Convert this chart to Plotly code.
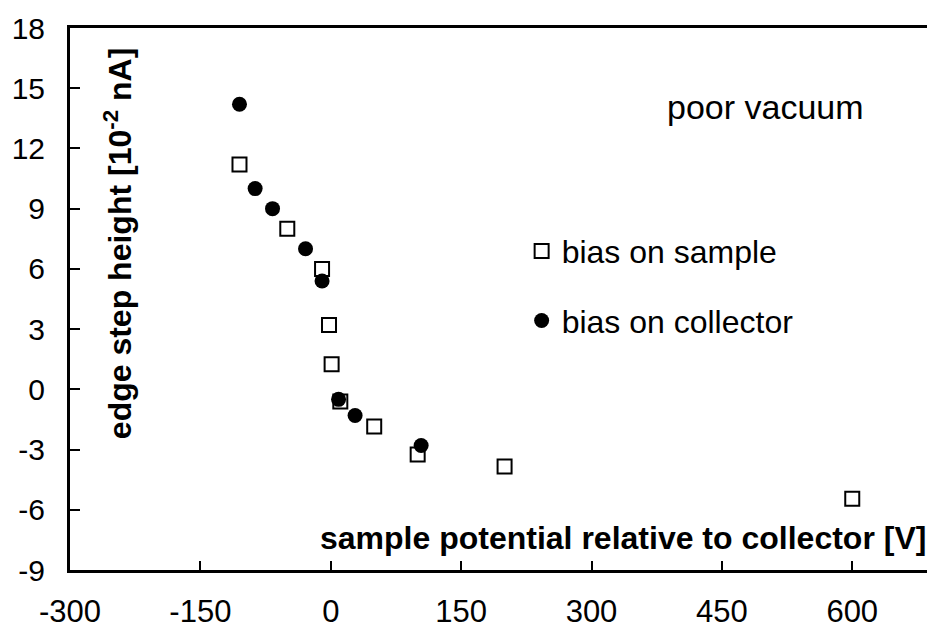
import plotly.graph_objects as go

sample_x = [-105, -50, -10, -2, 1, 11, 50, 100, 200, 600]
sample_y = [11.2, 8.0, 6.0, 3.2, 1.25, -0.6, -1.85, -3.25, -3.85, -5.45]
collector_x = [-105, -87, -67, -29, -10, 9, 28, 104]
collector_y = [14.2, 10.0, 9.0, 7.0, 5.4, -0.5, -1.3, -2.8]

x_ticks = [-300, -150, 0, 150, 300, 450, 600]
y_ticks = [-9, -6, -3, 0, 3, 6, 9, 12, 15, 18]

FONT = "Liberation Sans, Arial, sans-serif"

fig = go.Figure()
fig.add_trace(go.Scatter(
    x=sample_x, y=sample_y, mode="markers", name="bias on sample",
    legendgroup="a",
    marker=dict(symbol="square-open", size=14, color="black", line=dict(width=2, color="black")),
))
fig.add_trace(go.Scatter(
    x=collector_x, y=collector_y, mode="markers", name="bias on collector",
    legendgroup="b",
    marker=dict(symbol="circle", size=15, color="black"),
))

fig.update_layout(
    width=927, height=630,
    margin=dict(l=70, r=0, t=28, b=60, autoexpand=False),
    paper_bgcolor="white", plot_bgcolor="white",
    font=dict(family=FONT, size=32, color="black"),
    showlegend=True,
    legend=dict(x=0.527, y=0.639, xanchor="left", yanchor="top",
                bgcolor="rgba(0,0,0,0)", font=dict(size=32),
                traceorder="grouped", tracegroupgap=25, itemsizing="trace"),
    xaxis=dict(range=[-300, 686], tickvals=x_ticks, ticktext=[str(v) for v in x_ticks],
               automargin=False,
               showgrid=False, zeroline=False, showline=True, linecolor="black", linewidth=3,
               mirror=True, ticks="inside", ticklen=9, tickwidth=2, tickcolor="black",
               ticklabelstandoff=12, tickfont=dict(size=31)),
    yaxis=dict(range=[-9, 18], tickvals=y_ticks, ticktext=[str(v) for v in y_ticks],
               automargin=False,
               showgrid=False, zeroline=False, showline=True, linecolor="black", linewidth=3,
               ticks="inside", ticklen=10, tickwidth=2, tickcolor="black",
               ticklabelstandoff=16, tickfont=dict(size=30)),
    annotations=[
        dict(text="poor vacuum", xref="paper", yref="paper", x=0.929, y=0.855,
             xanchor="right", yanchor="middle", showarrow=False, font=dict(size=34)),
        dict(text="<b>sample potential relative to collector [V]</b>", xref="paper", yref="paper",
             x=1.001, y=0.059, xanchor="right", yanchor="middle", showarrow=False, font=dict(size=32)),
        dict(text="<b>edge step height [10<sup>-2</sup> nA]</b>", xref="paper", yref="paper",
             x=0.056, y=0.603, xanchor="center", yanchor="middle", textangle=-90,
             showarrow=False, font=dict(size=32)),
    ],
)

fig.write_html("out.html")
